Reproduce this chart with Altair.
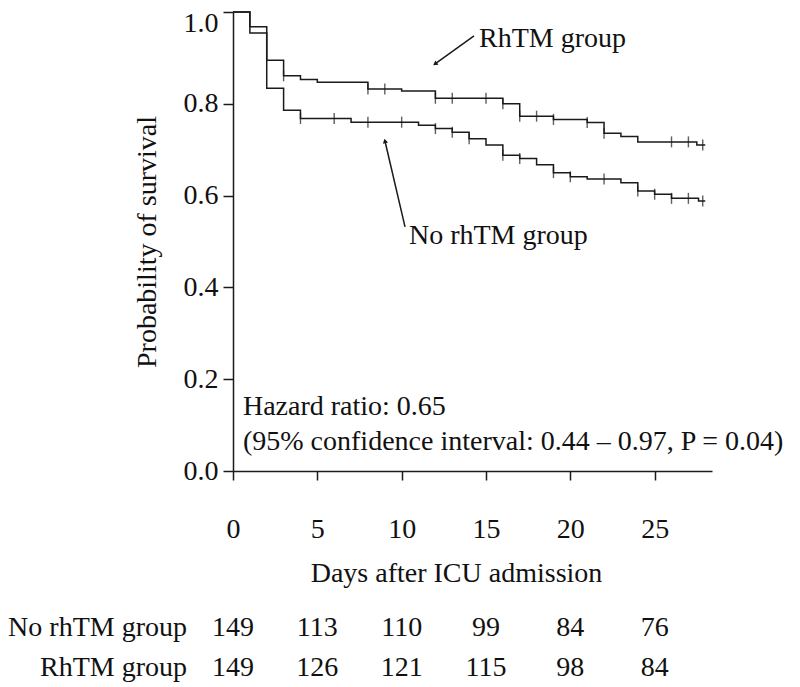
import altair as alt
import pandas as pd

# ---------------- data ----------------
rhtm_t = [0, 1, 2, 3, 4, 5, 8, 10, 12, 16, 17, 19, 21, 22, 23, 24, 27.5, 28]
rhtm_s = [1.0, 0.968, 0.895, 0.861, 0.853, 0.847, 0.832, 0.828, 0.812, 0.800,
          0.773, 0.766, 0.759, 0.736, 0.729, 0.717, 0.710, 0.710]
rhtm_cens = [3, 8, 9, 12, 13, 15, 16, 17, 18, 19, 21, 22, 26, 27, 27.85]

no_t = [0, 1, 2, 3, 4, 7, 11, 12, 13, 14, 15, 16, 17, 18, 19, 20, 21, 23, 24,
        25, 26, 27.6, 28]
no_s = [1.0, 0.954, 0.834, 0.786, 0.768, 0.760, 0.753, 0.746, 0.738, 0.724,
        0.710, 0.688, 0.681, 0.667, 0.650, 0.641, 0.636, 0.628, 0.610, 0.603,
        0.594, 0.588, 0.588]
no_cens = [4, 6, 8, 10, 12, 13, 14, 16, 17, 19, 20, 22, 24, 25, 26, 27, 27.85]

risk_days = [0, 5, 10, 15, 20, 25]
risk_no = [149, 113, 110, 99, 84, 76]
risk_rhtm = [149, 126, 121, 115, 98, 84]
row_names = ["No rhTM group", "RhTM group"]

x_ticks = [0, 5, 10, 15, 20, 25]
y_ticks = [0.0, 0.2, 0.4, 0.6, 0.8, 1.0]

# ---------------- layout constants ----------------
FONT = "Liberation Serif"
FS = 28
INK = "#1a1a1a"
X_MAX = 28.4
ROW_Y = [-0.342, -0.429]
ROW_LABEL_X = -2.73


def step_value(times, values, t):
    v = values[0]
    for ti, vi in zip(times, values):
        if ti <= t + 1e-9:
            v = vi
    return v


curves = pd.DataFrame({
    "day": rhtm_t + no_t,
    "surv": rhtm_s + no_s,
    "group": ["RhTM"] * len(rhtm_t) + ["No"] * len(no_t),
})

cens = pd.DataFrame({
    "day": rhtm_cens + no_cens,
    "surv": [step_value(rhtm_t, rhtm_s, t) for t in rhtm_cens]
    + [step_value(no_t, no_s, t) for t in no_cens],
})

labels = pd.DataFrame({
    "day": [14.59, 10.43, 0.59, 0.59],
    "surv": [0.941, 0.512, 0.139, 0.063],
    "txt": ["RhTM group", "No rhTM group", "Hazard ratio: 0.65",
            "(95% confidence interval: 0.44 \u2013 0.97, P = 0.04)"],
})

arrows = pd.DataFrame({
    "day": [14.29, 10.2],
    "surv": [0.948, 0.532],
    "day2": [11.98, 9.01],
    "surv2": [0.887, 0.719],
    "ang": [234, 347],
})

table = pd.DataFrame({
    "day": risk_days + risk_days,
    "surv": [ROW_Y[0]] * len(risk_days) + [ROW_Y[1]] * len(risk_days),
    "txt": [str(v) for v in risk_no + risk_rhtm],
})

row_lab = pd.DataFrame({
    "day": [ROW_LABEL_X, ROW_LABEL_X],
    "surv": ROW_Y,
    "txt": row_names,
})

# ---------------- scales and axes ----------------
xs = alt.Scale(domain=[0, X_MAX], nice=False, zero=False)
ys = alt.Scale(domain=[0, 1], nice=False)

xaxis = alt.Axis(
    values=x_ticks, format="d", grid=False,
    domainColor=INK, domainWidth=1.5, tickColor=INK, tickWidth=1.5, tickSize=9,
    labelFont=FONT, labelFontSize=FS, labelColor="#111", labelPadding=35,
    labelFlush=False,
    title="Days after ICU admission", titleFont=FONT, titleFontSize=FS,
    titleFontWeight="normal", titleColor="#111",
    titleX=223, titleY=102, titleBaseline="middle", titleAlign="center",
)
yaxis = alt.Axis(
    values=y_ticks, format=".1f", grid=False,
    domainColor=INK, domainWidth=1.5, tickColor=INK, tickWidth=1.5, tickSize=10,
    labelFont=FONT, labelFontSize=FS, labelColor="#111", labelPadding=5,
    labelFlush=False,
    labelOffset={"condition": {"test": "datum.value === 1", "value": 11}, "value": 0},
    title="Probability of survival", titleFont=FONT, titleFontSize=FS,
    titleFontWeight="normal", titleColor="#111",
    titleAngle=270, titleX=-78, titleY=229.5, titleBaseline="alphabetic",
    titleAlign="center",
)

X = alt.X("day:Q", scale=xs, axis=xaxis)
Y = alt.Y("surv:Q", scale=ys, axis=yaxis)

lines = alt.Chart(curves).mark_line(
    interpolate="step-after", color=INK, strokeWidth=1.5
).encode(x=X, y=Y, detail="group:N")

ticks = alt.Chart(cens).mark_tick(
    orient="vertical", size=11, thickness=1.4, color=INK
).encode(x=X, y=Y)

txt = alt.Chart(labels).mark_text(
    font=FONT, fontSize=FS, align="left", baseline="middle", color="#111"
).encode(x=X, y=Y, text="txt:N")

rules = alt.Chart(arrows).mark_rule(color=INK, strokeWidth=1.5).encode(
    x=X, y=Y, x2=alt.X2("day2:Q"), y2=alt.Y2("surv2:Q")
)

heads = alt.Chart(arrows).mark_point(
    shape="triangle-up", filled=True, size=28, color=INK, opacity=1
).encode(
    x=alt.X("day2:Q", scale=xs, axis=xaxis),
    y=alt.Y("surv2:Q", scale=ys, axis=yaxis),
    angle=alt.Angle("ang:Q", scale=None),
)

tab = alt.Chart(table).mark_text(
    font=FONT, fontSize=FS, align="center", baseline="middle", color="#111"
).encode(x=X, y=Y, text="txt:N")

rows = alt.Chart(row_lab).mark_text(
    font=FONT, fontSize=FS, align="right", baseline="middle", color="#111"
).encode(x=X, y=Y, text="txt:N")

chart = alt.layer(lines, ticks, rules, heads, txt, tab, rows).properties(
    width=479, height=459,
    padding={"left": 225, "top": 4, "right": 80, "bottom": 211},
    autosize=alt.AutoSizeParams(type="none"),
).configure(font=FONT).configure_view(stroke="transparent", strokeWidth=0)

chart.save("out.html", embed_options={"renderer": "svg", "actions": False})
